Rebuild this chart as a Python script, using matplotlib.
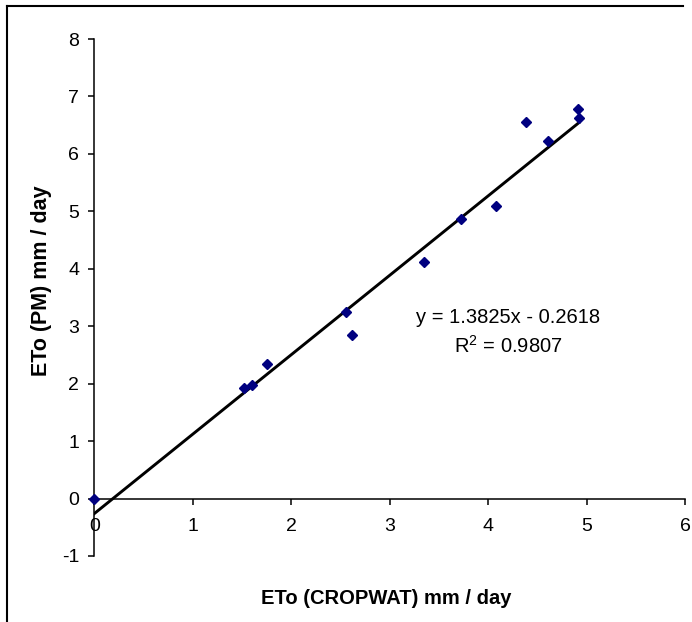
import numpy as np
import matplotlib
matplotlib.use('Agg')
import matplotlib.pyplot as plt
from matplotlib.lines import Line2D

plt.rcParams['font.family'] = ['Liberation Sans', 'DejaVu Sans']
plt.rcParams['axes.unicode_minus'] = False

# ETo values
eto_cropwat = [0.0, 1.52, 1.60, 1.75, 2.56, 2.62, 3.35, 3.72, 4.08, 4.39, 4.61, 4.91, 4.92]
eto_pm = [0.0, 1.93, 1.97, 2.35, 3.25, 2.84, 4.12, 4.87, 5.10, 6.55, 6.23, 6.79, 6.62]
slope = 1.3825
intercept = -0.2618
r2 = 0.9807

x_ticks = [0, 1, 2, 3, 4, 5, 6]
y_ticks = [-1, 0, 1, 2, 3, 4, 5, 6, 7, 8]

W, H = 692, 622
fig = plt.figure(figsize=(W / 100, H / 100), dpi=100)
ax = fig.add_axes([94.3 / W, 1 - 556 / H, (685 - 94.3) / W, (556 - 39) / H])

# data points and linear trend line
ax.plot(eto_cropwat, eto_pm, linestyle='none', marker='D', markersize=5.5,
        color='#000080', zorder=3, clip_on=False)
xs = np.array([min(eto_cropwat), max(eto_cropwat)])
ax.plot(xs, slope * xs + intercept, color='black', linewidth=2.1, zorder=2)

ax.set_xlim(0, 6)
ax.set_ylim(-1, 8)
ax.set_xticks(x_ticks)
ax.set_yticks(y_ticks)

for s in ['top', 'right']:
    ax.spines[s].set_visible(False)
ax.spines['bottom'].set_position(('data', 0))
ax.spines['bottom'].set_linewidth(1.1)
ax.spines['left'].set_linewidth(1.1)
ax.tick_params(axis='x', direction='out', length=4, width=1.1, pad=10, labelsize=14)
ax.tick_params(axis='y', direction='out', length=4, width=1.1, pad=7, labelsize=14)

ax.text(4.2, 3.15, 'y = %.4fx - %.4f' % (slope, -intercept), ha='center', va='center',
        fontsize=14.5)
ax.text(4.2, 2.65, '$\\mathregular{R^2}$ = %.4f' % r2, ha='center', va='center',
        fontsize=14.5)

fig.text(386 / W, 1 - 598 / H, 'ETo (CROPWAT) mm / day', ha='center', va='center',
         fontsize=14.5, fontweight='bold')
fig.text(42 / W, 1 - 281 / H, 'ETo (PM) mm / day', ha='center', va='center',
         rotation=90, fontsize=15.5, fontweight='bold')

# outer frame (only left and top edges visible in the picture)
fig.add_artist(Line2D([7 / W, 7 / W], [0, 1 - 5.7 / H], color='black', linewidth=1.5,
                      transform=fig.transFigure))
fig.add_artist(Line2D([7 / W, 683 / W], [1 - 5.7 / H, 1 - 5.7 / H], color='black',
                      linewidth=1.5, transform=fig.transFigure))

fig.savefig('out.png', dpi=100)
